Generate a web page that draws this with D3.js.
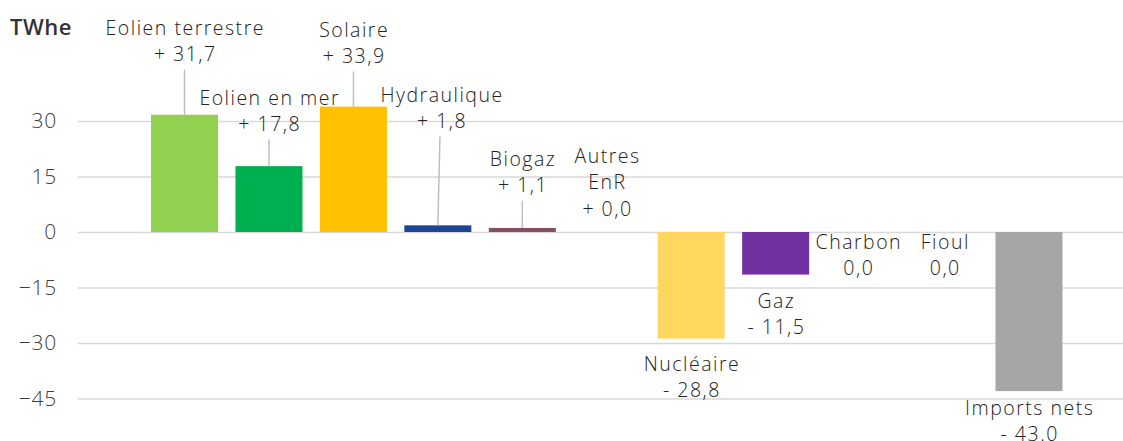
<!DOCTYPE html>
<html>
  <head>
    <meta charset="utf-8">
    <title>Bilan TWhe</title>
    <script src="https://d3js.org/d3.v7.min.js"></script>
    <style>
      body { margin: 0; background: #fff; }
      text { font-family: "Open Sans", Lato, sans-serif; }
    </style>
  </head>
  <body>
    <div id="chart"></div>
    <script>
      // data
      const categories = ["Eolien terrestre", "Eolien en mer", "Solaire", "Hydraulique", "Biogaz",
        "Autres EnR", "Nucléaire", "Gaz", "Charbon", "Fioul", "Imports nets"];
      const values = [31.7, 17.8, 33.9, 1.8, 1.1, 0.0, -28.8, -11.5, 0.0, 0.0, -43.0];
      const valueLabels = ["+ 31,7", "+ 17,8", "+ 33,9", "+ 1,8", "+ 1,1", "+ 0,0",
        "- 28,8", "- 11,5", "0,0", "0,0", "- 43.0"];
      const nameLines = [["Eolien terrestre"], ["Eolien en mer"], ["Solaire"], ["Hydraulique"], ["Biogaz"],
        ["Autres", "EnR"], ["Nucléaire"], ["Gaz"], ["Charbon"], ["Fioul"], ["Imports nets"]];
      const colors = ["#92d050", "#00b050", "#ffc000", "#1b4596", "#87505f", "#ffffff",
        "#ffd75e", "#7030a0", "#ffffff", "#ffffff", "#a6a6a6"];
      const yTicks = [30, 15, 0, -15, -30, -45];

      // label placement: first line centre (in TWhe units), x nudge, leader line or not
      const labelAt = [55.1, 36.2, 54.6, 37.0, 19.7, 20.5, -35.7, -18.6, -2.7, -2.7, -47.6];
      const labelDx = [0, 0, 0, 3.5, 0, 0, 0, 0, -2, 0, 0];
      const leader = [true, true, true, true, true, false, false, false, false, false, false];

      const width = 1123, height = 441;
      const lineH = 26.5;

      const svg = d3.select("#chart").append("svg")
        .attr("width", width)
        .attr("height", height);

      const x = d3.scaleBand()
        .domain(categories)
        .range([142.3, 1071.2])
        .paddingInner(0.2066)
        .paddingOuter(0.1033);

      const y = d3.scaleLinear()
        .domain([-45, 30])
        .range([398.5, 121]);

      // gridlines + tick labels
      const yAxis = svg.append("g")
        .attr("transform", "translate(78,0)")
        .call(d3.axisLeft(y).tickValues(yTicks).tickSize(-1045).tickPadding(21));
      yAxis.select(".domain").remove();
      yAxis.selectAll(".tick line").attr("stroke", "#d9d9d9").attr("stroke-width", 1.5);
      yAxis.selectAll(".tick text")
        .attr("fill", "#404040")
        .style("font-size", "21px")
        .style("font-weight", 300)
        .style("letter-spacing", "0.8px");

      svg.append("text")
        .attr("x", 10)
        .attr("y", 35)
        .attr("fill", "#333")
        .style("font-size", "22px")
        .style("font-weight", 600)
        .style("letter-spacing", "0.5px")
        .text("TWhe");

      svg.selectAll(".bar")
        .data(categories)
        .enter()
        .append("rect")
        .attr("class", "bar")
        .attr("x", d => x(d))
        .attr("width", x.bandwidth())
        .attr("y", (d, i) => y(Math.max(0, values[i])))
        .attr("height", (d, i) => Math.abs(y(values[i]) - y(0)))
        .attr("fill", (d, i) => colors[i]);

      // labels
      categories.forEach((c, i) => {
        const cx = x(c) + x.bandwidth() / 2;
        const lx = cx + labelDx[i];
        const ly = y(labelAt[i]);
        const lines = nameLines[i].concat([valueLabels[i]]);
        const g = svg.append("g");
        lines.forEach((t, k) => {
          g.append("text")
            .attr("x", lx + 0.75)
            .attr("y", ly + k * lineH)
            .attr("dy", "0.35em")
            .attr("text-anchor", "middle")
            .attr("fill", "#222")
            .style("font-size", "19.5px")
            .style("font-weight", 300)
            .style("letter-spacing", "1.5px")
            .text(t);
        });
        if (leader[i]) {
          svg.append("line")
            .attr("x1", lx - labelDx[i] * 0.4)
            .attr("y1", ly + (lines.length - 1) * lineH + 15)
            .attr("x2", cx)
            .attr("y2", y(values[i]))
            .attr("stroke", "#bfbfbf")
            .attr("stroke-width", 1.5);
        }
      });
    </script>
  </body>
</html>
